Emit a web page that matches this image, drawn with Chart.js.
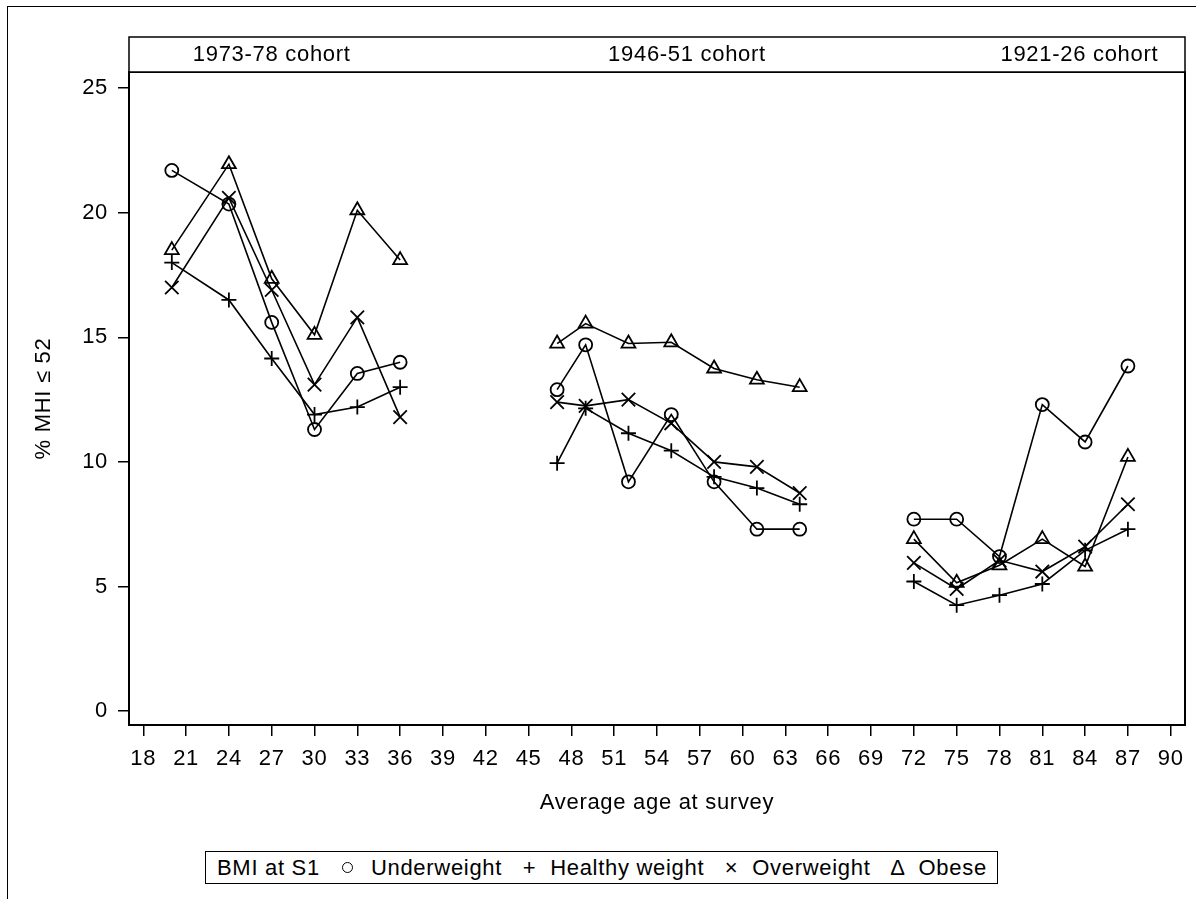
<!DOCTYPE html>
<html>
<head>
<meta charset="utf-8">
<script src="https://cdn.jsdelivr.net/npm/chart.js@4.4.1/dist/chart.umd.min.js"></script>
<style>
  html, body { margin: 0; padding: 0; background: #fff; }
  body { width: 1203px; height: 899px; position: relative; overflow: hidden;
         font-family: "Liberation Sans", Arial, sans-serif; }
  #frame { position: absolute; left: 7px; top: 6px; width: 1188px; height: 900px;
           border-top: 1px solid #000; border-left: 1px solid #000; }
  #chart { position: absolute; left: 0; top: 0; }
  #legend { position: absolute; left: 205px; top: 851px; height: 31px;
            border: 1px solid #000; background: #fff; display: flex; align-items: center;
            font-size: 22px; letter-spacing: 0.7px; color: #000; padding: 0 10px 0 11px; white-space: nowrap; }
  #legend .item { margin-left: 18px; display: flex; align-items: center; }
  #legend .item:first-of-type { margin-left: 33px; }
  #legend .sym { display: inline-block; width: 18px; text-align: center; margin-right: 12px; letter-spacing: 0; }
  #legend .circ { width: 9px; height: 9px; border: 1.5px solid #000; border-radius: 50%;
                  margin: 0 18px 0 4px; }
</style>
</head>
<body>
<div id="frame"></div>
<canvas id="chart" width="1203" height="899"></canvas>
<div id="legend"></div>

<script>
// ===== DADOS =====
const ages7378 = [20, 24, 27, 30, 33, 36];
const ages4651 = [47, 49, 52, 55, 58, 61, 64];
const ages2126 = [72, 75, 78, 81, 84, 87];
const cohortAges   = [ages7378, ages4651, ages2126];
const cohortLabels = ['1973-78 cohort', '1946-51 cohort', '1921-26 cohort'];

const underweight   = [21.7, 20.35, 15.6, 11.3, 13.55, 14.0,   12.9, 14.7, 9.2, 11.9, 9.2, 7.3, 7.3,   7.7, 7.7, 6.2, 12.3, 10.8, 13.85];
const healthyWeight = [18.0, 16.5, 14.15, 11.9, 12.2, 13.0,    9.95, 12.15, 11.15, 10.45, 9.4, 8.95, 8.3,   5.2, 4.25, 4.65, 5.1, 6.45, 7.3];
const overweight    = [17.0, 20.6, 16.9, 13.1, 15.8, 11.8,     12.4, 12.25, 12.5, 11.55, 10.0, 9.8, 8.75,   5.95, 4.9, 6.05, 5.6, 6.6, 8.3];
const obese         = [18.5, 21.95, 17.35, 15.1, 20.1, 18.1,   14.75, 15.55, 14.75, 14.8, 13.75, 13.3, 13.0,   6.9, 5.15, 5.85, 6.9, 5.8, 10.2];

const seriesNames  = ['Underweight', 'Healthy weight', 'Overweight', 'Obese'];
const seriesValues = [underweight, healthyWeight, overweight, obese];

const xTicks = [18, 21, 24, 27, 30, 33, 36, 39, 42, 45, 48, 51, 54, 57, 60, 63, 66, 69, 72, 75, 78, 81, 84, 87, 90];
const yTicks = [0, 5, 10, 15, 20, 25];

const legendTitle = 'BMI at S1';
const xTitle = 'Average age at survey';
const yTitle = '% MHI \u2264 52';


// ===== ESTILO =====
const FONT = '"Liberation Sans", Arial, sans-serif';
const marcadores = [
  { pointStyle: 'circle',   radius: 6.5 },
  { pointStyle: 'cross',    radius: 7.5 },
  { pointStyle: 'crossRot', radius: 9.5 },
  { pointStyle: 'triangle', radius: 8 }
];

Chart.defaults.font.family = FONT;
Chart.defaults.font.size = 22;
Chart.defaults.color = '#000';


// ===== DATASETS (uma linha por grupo e coorte) =====
const datasets = [];
seriesValues.forEach((vals, s) => {
  let off = 0;
  cohortAges.forEach(ages => {
    datasets.push({
      label: seriesNames[s],
      data: ages.map((a, i) => ({ x: a, y: vals[off + i] })),
      borderColor: '#000',
      borderWidth: 1.6,
      pointStyle: marcadores[s].pointStyle,
      pointRadius: marcadores[s].radius,
      pointBorderWidth: 1.8,
      pointBorderColor: '#000',
      pointBackgroundColor: 'rgba(0,0,0,0)',
      tension: 0
    });
    off += ages.length;
  });
});


// ===== PLUGIN: espaçamento do texto =====
const espacoPlugin = {
  id: 'espaco',
  beforeLayout(chart) { chart.ctx.letterSpacing = '0.7px'; },
  beforeDraw(chart) { chart.ctx.letterSpacing = '0.7px'; }
};

// ===== PLUGIN: faixa das coortes + moldura =====
const molduraPlugin = {
  id: 'moldura',
  afterDraw(chart) {
    const { ctx, chartArea: a, scales } = chart;
    ctx.save();
    ctx.strokeStyle = '#000';
    ctx.lineWidth = 2;
    ctx.strokeRect(a.left, a.top, a.right - a.left, a.bottom - a.top);

    // faixa
    const bandTop = a.top - 35;
    ctx.lineWidth = 1.5;
    ctx.fillStyle = '#fff';
    ctx.fillRect(a.left, bandTop, a.right - a.left, 35);
    ctx.strokeRect(a.left, bandTop, a.right - a.left, 35);

    ctx.fillStyle = '#000';
    ctx.font = '22px ' + FONT;
    ctx.letterSpacing = '0.7px';
    ctx.textAlign = 'center';
    ctx.textBaseline = 'middle';
    const anchors = [27, 56.1, 83.6];
    cohortLabels.forEach((t, i) => {
      ctx.fillText(t, scales.x.getPixelForValue(anchors[i]), bandTop + 18);
    });
    ctx.restore();
  }
};


// ===== GRÁFICO =====
new Chart(document.getElementById('chart'), {
  type: 'line',
  data: { datasets },
  options: {
    responsive: false,
    animation: false,
    devicePixelRatio: 1,
    layout: { padding: { left: 30, right: 18, top: 72, bottom: 83 } },
    plugins: { legend: { display: false }, tooltip: { enabled: false } },
    scales: {
      x: {
        type: 'linear',
        min: 17, max: 91,
        afterBuildTicks: s => { s.ticks = xTicks.map(v => ({ value: v })); },
        afterFit: s => { s.height = 91; },
        grid: { drawOnChartArea: false, drawTicks: true, tickLength: 11, color: '#000', lineWidth: 1.5 },
        border: { display: true, color: '#000', width: 2 },
        ticks: { padding: 10, maxRotation: 0, autoSkip: false, font: { size: 22 } },
        title: { display: true, text: xTitle, font: { size: 22 }, padding: 0 }
      },
      y: {
        min: -0.56, max: 25.65,
        afterBuildTicks: s => { s.ticks = yTicks.map(v => ({ value: v })); },
        afterFit: s => { s.width = 99; },
        grid: { drawOnChartArea: false, drawTicks: true, tickLength: 11, color: '#000', lineWidth: 1.5 },
        border: { display: true, color: '#000', width: 2 },
        ticks: { padding: 10, font: { size: 22 } },
        title: { display: true, text: yTitle, font: { size: 22 }, padding: 1 }
      }
    }
  },
  plugins: [espacoPlugin, molduraPlugin]
});


// ===== LEGENDA =====
const simbolos = ['<span class="sym circ"></span>', '<span class="sym">+</span>', '<span class="sym">\u00d7</span>', '<span class="sym">\u0394</span>'];
document.getElementById('legend').innerHTML =
  `<span>${legendTitle}</span>` +
  seriesNames.map((n, i) => `<span class="item">${simbolos[i]}<span>${n}</span></span>`).join('');
</script>
</body>
</html>
